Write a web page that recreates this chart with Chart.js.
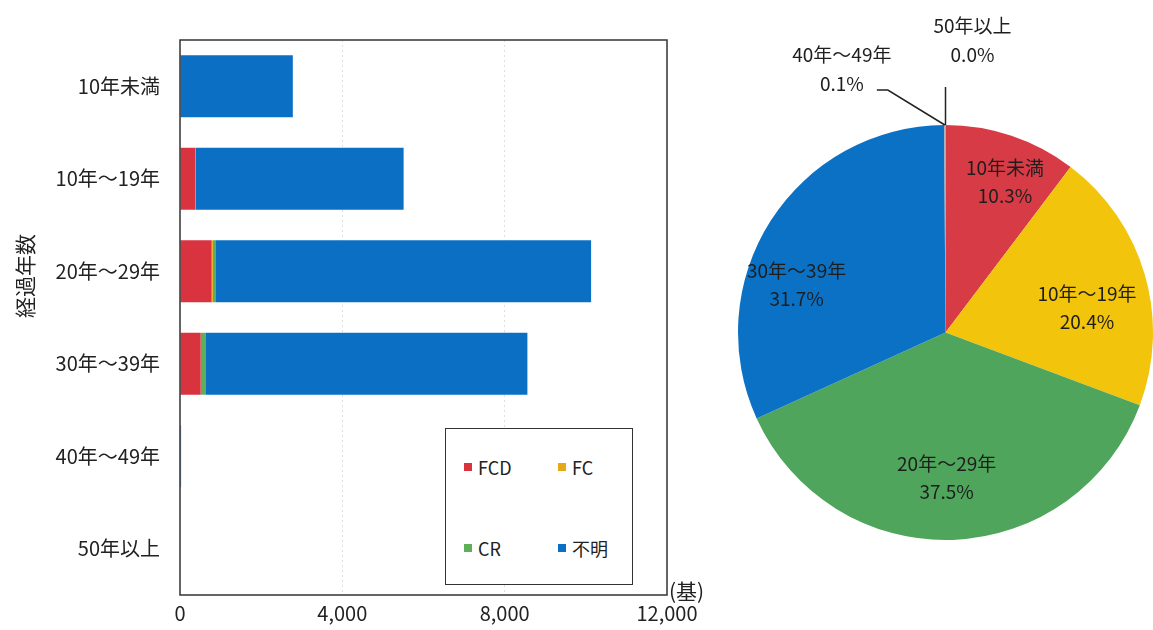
<!DOCTYPE html>
<html lang="ja">
<head>
<meta charset="UTF-8">
<title>経過年数別の基数</title>
<script src="https://cdn.jsdelivr.net/npm/chart.js@4.4.1/dist/chart.umd.min.js"></script>
<style>
  html, body { margin: 0; padding: 0; background: #fff; overflow: hidden; }
  #wrap { position: relative; width: 1153px; height: 630px; }
  #barBox { position: absolute; left: 0; top: 0; width: 720px; height: 630px; }
  #pieBox { position: absolute; left: 718px; top: 0; width: 435px; height: 630px; }
  #barLegend {
    position: absolute; left: 445px; top: 428px; width: 188px; height: 157px;
    box-sizing: border-box; border: 1.5px solid #333; background: #fff;
    font-family: "Noto Sans CJK JP", sans-serif; font-size: 18px; color: #222;
  }
  #barLegend .item { position: absolute; display: flex; align-items: center; height: 24px; }
  #barLegend .mark { width: 8px; height: 8px; margin-right: 6px; }
</style>
</head>
<body>
<div id="wrap">
  <div id="barBox"><canvas id="ageBarChart"></canvas></div>
  <div id="barLegend"></div>
  <div id="pieBox"><canvas id="agePieChart"></canvas></div>
</div>
<script>
// 経過年数の区分
const categories = ['10年未満', '10年～19年', '20年～29年', '30年～39年', '40年～49年', '50年以上'];

// 型式別の基数
const fcdCounts = [0, 370, 780, 510, 0, 0];
const fcCounts = [0, 0, 30, 0, 0, 0];
const crCounts = [0, 20, 60, 130, 0, 0];
const unknownCounts = [2780, 5120, 9260, 7920, 27, 0];

// 経過年数別の構成比（%）
const sharePct = [10.3, 20.4, 37.5, 31.7, 0.1, 0.0];

// x軸目盛
const xTicks = [0, 4000, 8000, 12000];

const FONT = '"Noto Sans CJK JP", sans-serif';

document.addEventListener('DOMContentLoaded', function() {

    // 枠線・縦軸タイトル・単位を描く
    const axisNotes = {
        id: 'axisNotes',
        afterDraw(chart) {
            const { ctx, chartArea: a } = chart;
            ctx.save();
            ctx.strokeStyle = '#333';
            ctx.lineWidth = 1.5;
            ctx.strokeRect(a.left, a.top, a.right - a.left, a.bottom - a.top);

            ctx.fillStyle = '#222';
            ctx.font = '21px ' + FONT;
            ctx.textBaseline = 'middle';
            ctx.textAlign = 'left';
            ctx.fillText('(基)', a.right + 2, a.bottom - 4);

            ctx.translate(25, a.top + 236);
            ctx.rotate(-Math.PI / 2);
            ctx.textAlign = 'center';
            ctx.fillText('経過年数', 0, 0);
            ctx.restore();
        }
    };

    function renderBarChart() {
        const ctx = document.getElementById('ageBarChart').getContext('2d');
        return new Chart(ctx, {
            type: 'bar',
            data: {
                labels: categories,
                datasets: [
                    { label: 'FCD', data: fcdCounts, backgroundColor: '#d8333f' },
                    { label: 'FC', data: fcCounts, backgroundColor: '#e6a817' },
                    { label: 'CR', data: crCounts, backgroundColor: '#5fae5a' },
                    { label: '不明', data: unknownCounts, backgroundColor: '#0b6fc3' }
                ]
            },
            options: {
                indexAxis: 'y',
                responsive: true,
                maintainAspectRatio: false,
                animation: false,
                layout: { padding: { top: 40, right: 53 } },
                datasets: { bar: { categoryPercentage: 1, barPercentage: 0.67, borderWidth: 0 } },
                plugins: { legend: { display: false }, tooltip: { enabled: false } },
                scales: {
                    x: {
                        stacked: true,
                        min: 0,
                        max: 12000,
                        afterBuildTicks: s => { s.ticks = xTicks.map(v => ({ value: v })); },
                        afterFit: s => { s.height = 35; },
                        grid: {
                            drawTicks: false,
                            color: c => (c.tick && (c.tick.value === 0 || c.tick.value === 12000)) ? 'rgba(0,0,0,0)' : 'rgba(0,0,0,0.13)'
                        },
                        border: { display: false, dash: [2, 3] },
                        ticks: {
                            padding: 6,
                            color: '#222',
                            font: { family: FONT, size: 20 },
                            callback: v => v.toLocaleString('en-US')
                        }
                    },
                    y: {
                        stacked: true,
                        afterFit: s => { s.width = 180; },
                        grid: { display: false, drawTicks: false },
                        border: { display: false },
                        ticks: {
                            padding: 20,
                            color: '#222',
                            font: { family: FONT, size: 20 }
                        }
                    }
                }
            },
            plugins: [axisNotes]
        });
    }

    // 凡例は枠付きの2列×2行で表示
    function buildLegend(chart) {
        const box = document.getElementById('barLegend');
        chart.data.datasets.forEach((ds, i) => {
            const item = document.createElement('div');
            item.className = 'item';
            item.style.left = (18 + (i % 2) * 94) + 'px';
            item.style.top = (26 + Math.floor(i / 2) * 81) + 'px';
            const mark = document.createElement('span');
            mark.className = 'mark';
            mark.style.background = ds.backgroundColor;
            const txt = document.createElement('span');
            txt.textContent = ds.label;
            item.appendChild(mark);
            item.appendChild(txt);
            box.appendChild(item);
        });
    }

    // 円グラフのラベル（小さい扇形は引出線付き）
    const pieLabels = {
        id: 'pieLabels',
        afterDatasetsDraw(chart, args, opts) {
            const ctx = chart.ctx;
            const meta = chart.getDatasetMeta(0);
            ctx.save();
            ctx.font = '19px ' + FONT;
            ctx.fillStyle = '#1e1e1e';
            ctx.strokeStyle = '#222';
            ctx.lineWidth = 1.5;
            ctx.textAlign = 'center';
            ctx.textBaseline = 'middle';
            meta.data.forEach((arc, i) => {
                const p = arc.getProps(['x', 'y', 'startAngle', 'endAngle', 'outerRadius'], true);
                const mid = (p.startAngle + p.endAngle) / 2;
                const lines = [categories[i], sharePct[i].toFixed(1) + '%'];
                const call = opts.callouts[i];
                if (!call) {
                    const r = p.outerRadius * 0.72;
                    const [sx, sy] = opts.shift[i] || [0, 0];
                    const cx = p.x + Math.cos(mid) * r + sx;
                    const cy = p.y + Math.sin(mid) * r + sy;
                    ctx.fillText(lines[0], cx, cy - 14);
                    ctx.fillText(lines[1], cx, cy + 14);
                    return;
                }
                const px = p.x + Math.cos(mid) * p.outerRadius;
                const py = p.y + Math.sin(mid) * p.outerRadius;
                ctx.beginPath();
                ctx.moveTo(px, py);
                call.path.forEach(([dx, dy]) => ctx.lineTo(px + dx, py + dy));
                ctx.stroke();
                ctx.fillText(lines[0], px + call.text[0], py + call.text[1] - 15);
                ctx.fillText(lines[1], px + call.text[0], py + call.text[1] + 14);
            });
            ctx.restore();
        }
    };

    function renderPieChart() {
        const ctx = document.getElementById('agePieChart').getContext('2d');
        return new Chart(ctx, {
            type: 'pie',
            data: {
                labels: categories,
                datasets: [{
                    data: sharePct,
                    backgroundColor: ['#d73b45', '#f2c40c', '#4fa55b', '#0b71c5', '#a5a5a5', '#5b9bd5'],
                    borderWidth: 0
                }]
            },
            options: {
                responsive: true,
                maintainAspectRatio: false,
                animation: false,
                layout: { padding: { left: 20, right: 0, top: 125, bottom: 90 } },
                plugins: {
                    legend: { display: false },
                    tooltip: { enabled: false },
                    pieLabels: {
                        shift: { 0: [12, -9], 1: [-2, 17], 2: [-4, -4], 3: [-23, 33] },
                        callouts: {
                            4: { path: [[-57, -35], [-68, -35]], text: [-103, -55] },
                            5: { path: [[0, -38]], text: [27, -84] }
                        }
                    }
                }
            },
            plugins: [pieLabels]
        });
    }

    const bar = renderBarChart();
    buildLegend(bar);
    renderPieChart();
});
</script>
</body>
</html>
